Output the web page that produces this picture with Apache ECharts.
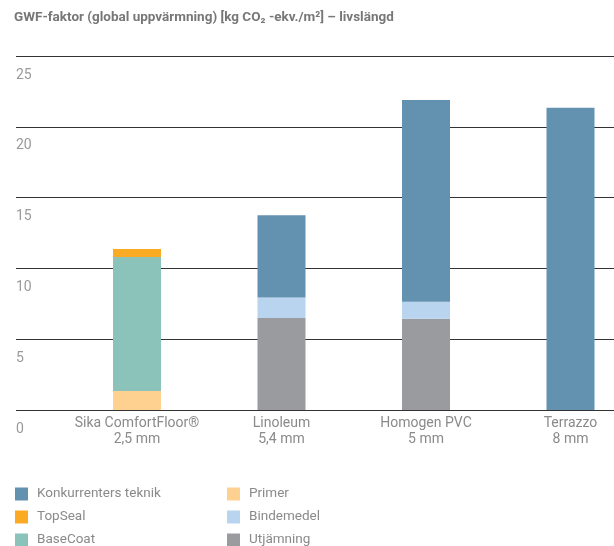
<!DOCTYPE html>
<html>
<head>
<meta charset="utf-8">
<script src="https://cdn.jsdelivr.net/npm/echarts@6/dist/echarts.min.js"></script>
<style>html,body{margin:0;padding:0;background:#fff;}#c{width:614px;height:546px;}</style>
</head>
<body>
<div id="c"></div>
<script>
var categories = ['Sika ComfortFloor®\n2,5 mm', 'Linoleum\n5,4 mm', 'Homogen PVC\n5 mm', 'Terrazzo\n8 mm'];
var yTicks = [0, 5, 10, 15, 20, 25];
var primer = [1.35, null, null, null];
var baseCoat = [9.45, null, null, null];
var topSeal = [0.57, null, null, null];
var utjamning = [null, 6.5, 6.45, null];
var bindemedel = [null, 1.45, 1.2, null];
var konkurrent = [null, 5.8, 14.25, 21.35];

var FONT = 'Roboto';
var colors = {
  'Konkurrenters teknik': '#6391B0',
  'TopSeal': '#FBAA24',
  'BaseCoat': '#8BC2BA',
  'Primer': '#FFD190',
  'Bindemedel': '#B8D4EE',
  'Utjämning': '#9A9B9F'
};
function s(name, data) {
  return {name: name, type: 'bar', stack: 'a', xAxisIndex: 1, yAxisIndex: 1, barWidth: 48,
    itemStyle: {color: colors[name]}, data: data};
}
var chart = echarts.init(document.getElementById('c'), null, {renderer: 'canvas'});
chart.setOption({
  animation: false,
  textStyle: {fontFamily: FONT},
  title: {text: 'GWF-faktor (global uppvärmning) [kg CO₂ -ekv./m²] – livslängd', left: 14, top: 11, padding: 0,
    textStyle: {fontFamily: FONT, fontSize: 13.5, fontWeight: 'bold', color: '#777'}},
  grid: [
    {left: 16, right: 0, top: 56, bottom: 136, outerBoundsMode: 'none'},
    {left: 64.75, width: 578, top: 56, bottom: 136, outerBoundsMode: 'none', containLabel: false}
  ],
  xAxis: [
    {type: 'value', gridIndex: 0, show: false},
    {type: 'category', gridIndex: 1, data: categories, axisLine: {show: false}, axisTick: {show: false},
      axisLabel: {interval: 0, color: '#8a8a8a', fontSize: 14, margin: 5, lineHeight: 16, fontFamily: FONT}}
  ],
  yAxis: [
    {type: 'value', gridIndex: 0, min: yTicks[0], max: yTicks[yTicks.length - 1], interval: 5,
      axisLine: {show: false}, axisTick: {show: false},
      splitLine: {lineStyle: {color: '#333', width: 1}},
      axisLabel: {inside: true, margin: 0, align: 'left', verticalAlign: 'top', padding: [12, 0, 0, 0],
        color: '#9a9a9a', fontSize: 14, fontFamily: FONT}},
    {type: 'value', gridIndex: 1, min: yTicks[0], max: yTicks[yTicks.length - 1], interval: 5, show: false,
      splitLine: {show: false}}
  ],
  legend: [
    {orient: 'vertical', left: 15, top: 487, height: 90, padding: 0, itemWidth: 13, itemHeight: 13, itemGap: 9,
      icon: 'rect', textStyle: {color: '#8a8a8a', fontSize: 13.5, fontFamily: FONT, padding: [0, 0, 0, 4]},
      data: ['Konkurrenters teknik', 'TopSeal', 'BaseCoat']},
    {orient: 'vertical', left: 227, top: 487, height: 90, padding: 0, itemWidth: 13, itemHeight: 13, itemGap: 9,
      icon: 'rect', textStyle: {color: '#8a8a8a', fontSize: 13.5, fontFamily: FONT, padding: [0, 0, 0, 4]},
      data: ['Primer', 'Bindemedel', 'Utjämning']}
  ],
  series: [
    s('Primer', primer),
    s('Utjämning', utjamning),
    s('BaseCoat', baseCoat),
    s('Bindemedel', bindemedel),
    s('TopSeal', topSeal),
    s('Konkurrenters teknik', konkurrent)
  ]
});
</script>
</body>
</html>
